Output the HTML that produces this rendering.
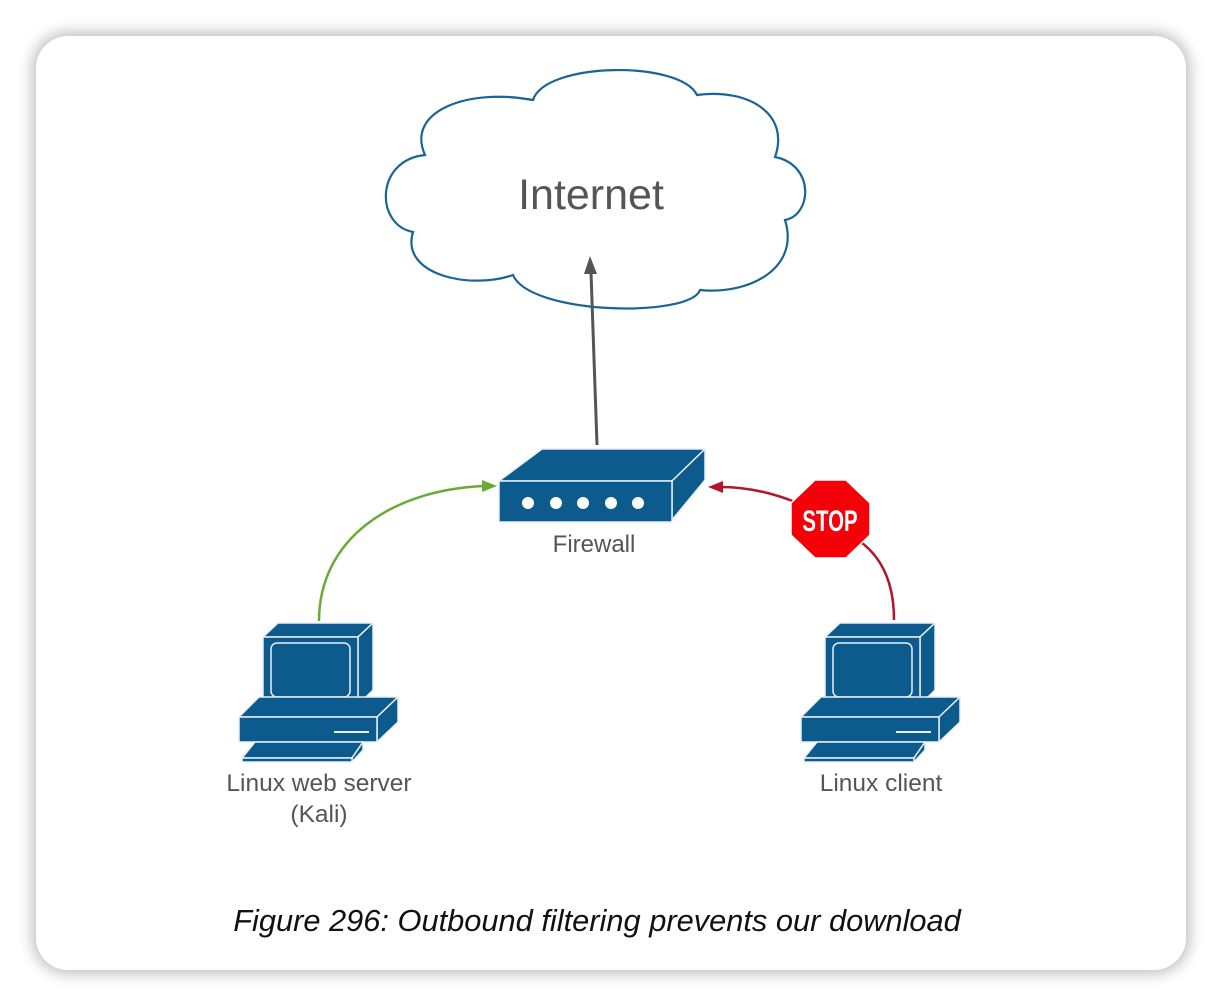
<!DOCTYPE html>
<html><head><meta charset="utf-8"><style>
html,body{margin:0;padding:0;background:#fff;}
body{width:1222px;height:1006px;overflow:hidden;position:relative;font-family:"Liberation Sans",sans-serif;}
.card{position:absolute;left:36px;top:36px;width:1150px;height:934px;border-radius:32px;background:#fff;box-shadow:0 0 14px 4px rgba(0,0,0,0.25);}
</style></head><body>
<div class="card"></div>
<svg width="1222" height="1006" style="position:absolute;left:0;top:0">
<defs>
<g id="pc" fill="#0d5a8c" stroke="#e8f0f6" stroke-width="1.5" stroke-linejoin="round">
<polygon points="263,637 278,623 373,623 358,637"/>
<polygon points="358,637 373,623 373,690 358,705"/>
<rect x="263" y="637" width="95" height="68"/>
<rect x="271" y="643" width="79" height="54" rx="6"/>
<polygon points="239,717 259,697 398,697 377,717"/>
<polygon points="377,717 398,697 398,722 377,742"/>
<rect x="239" y="717" width="138" height="25"/>
<line x1="334" y1="732" x2="369" y2="732" stroke-width="2"/>
<polygon points="242,758 255,742 363,742 352,758"/>
<polygon points="352,758 363,742 363,750 352,762"/>
<rect x="242" y="758" width="110" height="4"/>
</g>
</defs>
<path d="M 425,155 C 405,110 470,88 533,100 C 545,62 680,60 697,95 C 750,88 790,115 775,157 C 815,165 812,215 785,220 C 800,268 750,295 700,290 C 690,318 530,315 513,275 C 470,290 400,275 413,232 C 375,225 375,160 425,155 Z" fill="#fff" stroke="#1a6496" stroke-width="2.2"/>
<text x="591" y="209" font-size="43" fill="#555" text-anchor="middle">Internet</text>
<line x1="597" y1="445" x2="591" y2="272" stroke="#555" stroke-width="3"/>
<polygon points="590,256 584,274 597,274" fill="#555"/>
<g fill="#0d5a8c" stroke="#e8f0f6" stroke-width="1.5" stroke-linejoin="round">
<polygon points="499,481 542,449 705,449 672,481"/>
<polygon points="672,481 705,449 705,480 672,520"/>
<rect x="499" y="481" width="173" height="41"/>
</g>
<g fill="#fff"><circle cx="528" cy="503" r="6"/><circle cx="556" cy="503" r="6"/><circle cx="583" cy="503" r="6"/><circle cx="611" cy="503" r="6"/><circle cx="638" cy="503" r="6"/></g>
<text x="594" y="552" font-size="24" fill="#555" text-anchor="middle">Firewall</text>
<path d="M 319,621 C 319,540 390,490 484,486" fill="none" stroke="#6aaa35" stroke-width="2.5"/>
<polygon points="497,486 482,480 482,492" fill="#6aaa35"/>
<path d="M 894,620 C 894,580 880,555 858,540" fill="none" stroke="#b0182a" stroke-width="2.5"/>
<path d="M 795,502 C 770,492 745,487 720,487" fill="none" stroke="#b0182a" stroke-width="2.5"/>
<polygon points="708,487 723,481 723,493" fill="#b0182a"/>
<polygon points="815,480 846,480 870,503 870,535 846,558 815,558 791,535 791,503" fill="#f40009" stroke="#fff" stroke-width="1.5"/>
<text x="830" y="531" font-size="30" fill="#fff" text-anchor="middle" font-weight="bold" transform="translate(830,0) scale(0.68,1) translate(-830,0)">STOP</text>
<use href="#pc"/>
<use href="#pc" transform="translate(562,0)"/>
<text x="319" y="791" font-size="24.5" fill="#555" text-anchor="middle">Linux web server</text>
<text x="319" y="822" font-size="24.5" fill="#555" text-anchor="middle">(Kali)</text>
<text x="881" y="791" font-size="24.5" fill="#555" text-anchor="middle">Linux client</text>
<text x="597" y="931" font-size="30.8" fill="#111" text-anchor="middle" font-style="italic">Figure 296: Outbound filtering prevents our download</text>
</svg>
</body></html>
